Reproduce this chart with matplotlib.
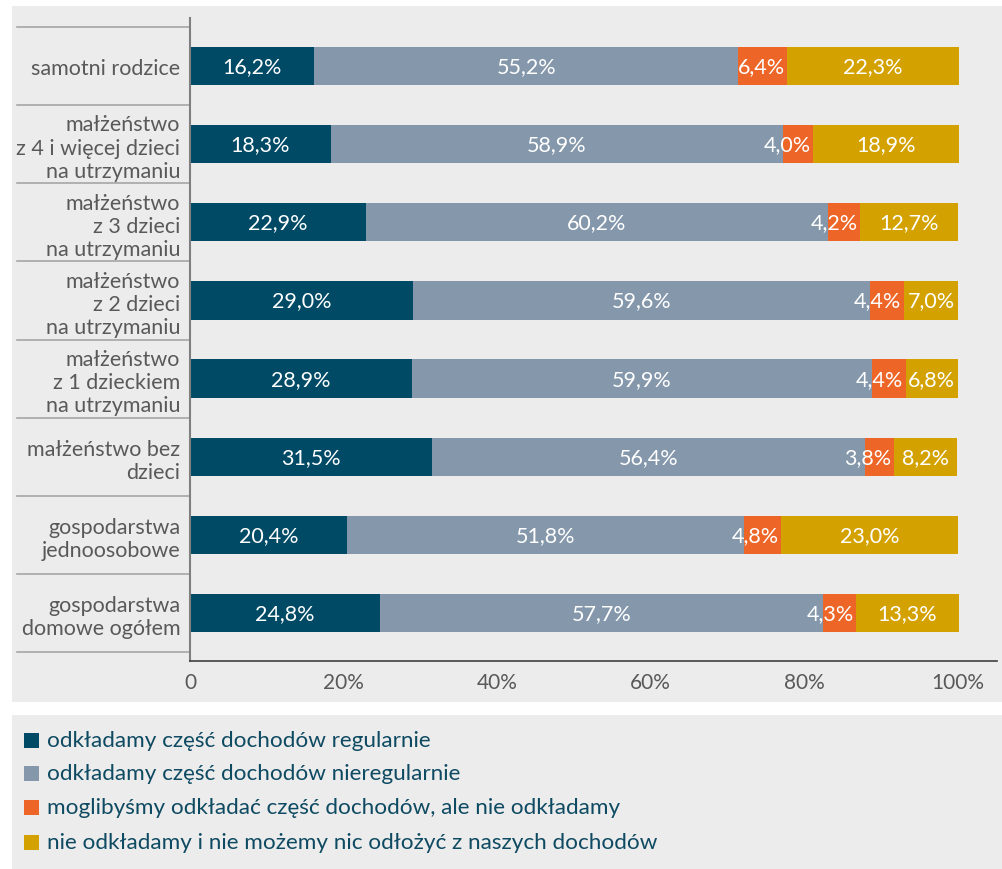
import matplotlib
matplotlib.use("Agg")
import matplotlib.pyplot as plt
from matplotlib.patches import Rectangle
import numpy as np

plt.rcParams['font.family'] = ['Lato', 'DejaVu Sans']

categories = [
    "samotni rodzice",
    "małżeństwo\nz 4 i więcej dzieci\nna utrzymaniu",
    "małżeństwo\nz 3 dzieci\nna utrzymaniu",
    "małżeństwo\nz 2 dzieci\nna utrzymaniu",
    "małżeństwo\nz 1 dzieckiem\nna utrzymaniu",
    "małżeństwo bez\ndzieci",
    "gospodarstwa\njednoosobowe",
    "gospodarstwa\ndomowe ogółem",
]
series_names = [
    "odkładamy część dochodów regularnie",
    "odkładamy część dochodów nieregularnie",
    "moglibyśmy odkładać część dochodów, ale nie odkładamy",
    "nie odkładamy i nie możemy nic odłożyć z naszych dochodów",
]
regular = [16.2, 18.3, 22.9, 29.0, 28.9, 31.5, 20.4, 24.8]
irregular = [55.2, 58.9, 60.2, 59.6, 59.9, 56.4, 51.8, 57.7]
could = [6.4, 4.0, 4.2, 4.4, 4.4, 3.8, 4.8, 4.3]
cannot = [22.3, 18.9, 12.7, 7.0, 6.8, 8.2, 23.0, 13.3]
xticks = [0, 20, 40, 60, 80, 100]
xticklabels = ["0", "20%", "40%", "60%", "80%", "100%"]

colors = ["#004a66", "#8497ab", "#ee6627", "#d4a200"]
bg = "#ececec"

W, H = 1003, 870
fig = plt.figure(figsize=(W / 100, H / 100), dpi=100, facecolor="white")

# background panels
fig.patches.append(Rectangle((12 / W, 1 - 703 / H), (W - 12) / W, (703 - 7) / H,
                             transform=fig.transFigure, facecolor=bg, edgecolor="none", zorder=-10))
fig.patches.append(Rectangle((12 / W, 0), (W - 12) / W, (H - 716) / H,
                             transform=fig.transFigure, facecolor=bg, edgecolor="none", zorder=-10))

ax = fig.add_axes([190 / W, 1 - 662 / H, (997 - 190) / W, (662 - 19) / H])
ax.set_facecolor("none")
ax.set_zorder(5)

y = np.arange(len(categories))
data = [regular, irregular, could, cannot]
left = np.zeros(len(categories))
for si, (vals, col) in enumerate(zip(data, colors)):
    vals = np.array(vals)
    ax.barh(y, vals, left=left, height=0.49, color=col, edgecolor="none", zorder=2)
    for yi, l, v in zip(y, left, vals):
        lab = f"{v:.1f}%".replace(".", ",")
        if si == 2:
            ax.text(l + v - 0.35, yi, lab, ha="right", va="center",
                    color="white", fontsize=15.5, zorder=3)
        else:
            ax.text(l + v / 2, yi, lab, ha="center", va="center",
                    color="white", fontsize=15.5, zorder=3)
    left = left + vals

ax.set_xlim(0, 105.1)
ax.set_ylim(7.61, -0.61)
ax.set_xticks(xticks)
ax.set_xticklabels(xticklabels, fontsize=15, color="#595959")
ax.set_yticks(y)
ax.set_yticklabels(categories, fontsize=15.5, color="#595959", linespacing=1.2)
ax.tick_params(axis="both", length=0)
ax.tick_params(axis="y", pad=7)
ax.tick_params(axis="x", pad=8)
for s in ["top", "right"]:
    ax.spines[s].set_visible(False)
ax.spines["left"].set_color("#7f7f7f")
ax.spines["left"].set_linewidth(1.5)
ax.spines["bottom"].set_color("#404040")
ax.spines["bottom"].set_linewidth(1.2)

# category separators left of axis
trans = matplotlib.transforms.blended_transform_factory(ax.transAxes, ax.transData)
x0 = (17 - 190) / (997 - 190)
for b in np.arange(-0.5, len(categories), 1.0):
    ax.plot([x0, 0], [b, b], transform=trans, color="#a6a6a6", lw=1.2, clip_on=False, zorder=1)

# legend
leg_y = [741, 774, 808, 843]
for name, col, yy in zip(series_names, colors, leg_y):
    fig.patches.append(Rectangle((24 / W, 1 - (yy + 7.5) / H), 15 / W, 15 / H,
                                 transform=fig.transFigure, facecolor=col, edgecolor="none"))
    fig.text(47 / W, 1 - yy / H, name, ha="left", va="center", fontsize=16.2, color="#0e4a62")

fig.savefig("out.png", dpi=100, facecolor="white")
